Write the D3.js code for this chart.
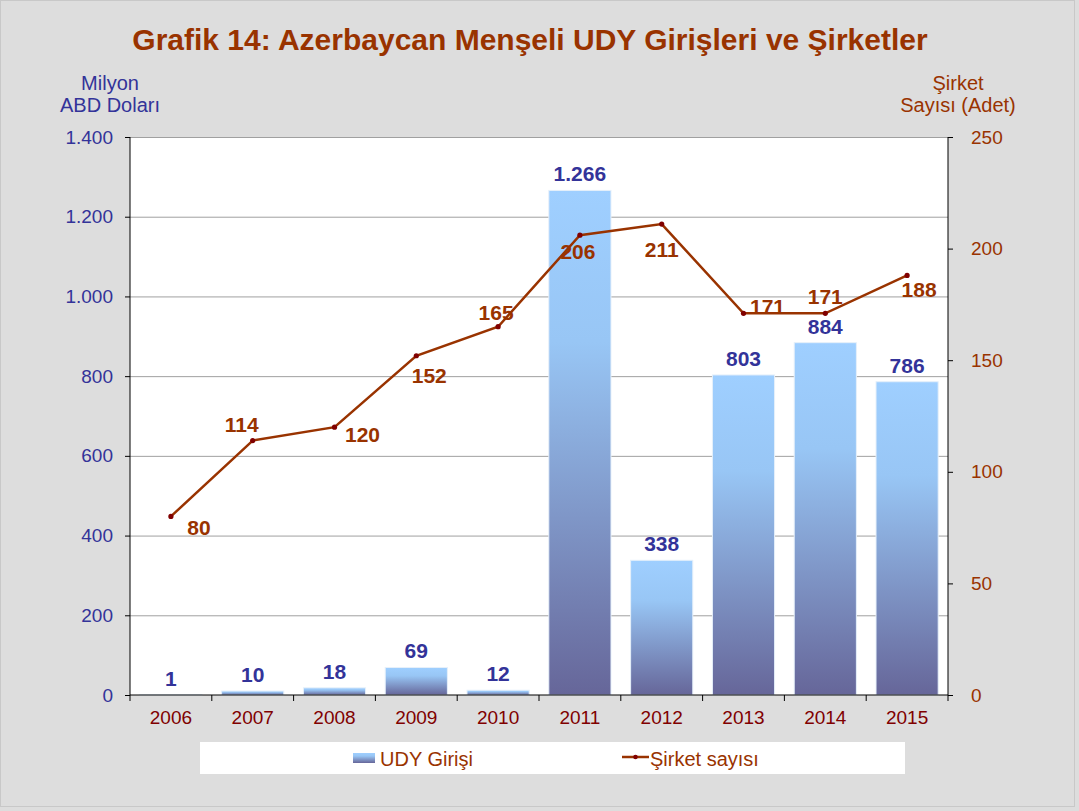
<!DOCTYPE html>
<html>
<head>
<meta charset="utf-8">
<script src="https://cdn.jsdelivr.net/npm/d3@7"></script>
<style>
  body { margin: 0; background: #dddddd; }
  svg { display: block; font-family: "Liberation Sans", Arial, sans-serif; }
</style>
</head>
<body>
<div id="chart"></div>
<script>
var years = ["2006", "2007", "2008", "2009", "2010", "2011", "2012", "2013", "2014", "2015"];
var udy = [1, 10, 18, 69, 12, 1266, 338, 803, 884, 786];
var sirket = [80, 114, 120, 152, 165, 206, 211, 171, 171, 188];
var leftTicks = [0, 200, 400, 600, 800, 1000, 1200, 1400];
var rightTicks = [0, 50, 100, 150, 200, 250];

// label offsets for the line labels
var lineLabelOffset = [[28, 12], [-11, -16], [28, 8], [13, 20], [-2, -14], [-2, 17], [0, 26], [24, -6], [0, -16], [12, 15]];

var W = 1079, H = 811;
var margin = {top: 137, right: 131, bottom: 116, left: 130};
var width = W - margin.left - margin.right;
var height = H - margin.top - margin.bottom;

var fmt = function(v) { return d3.format(",")(v).replace(/,/g, "."); };

var svg = d3.select("#chart").append("svg")
    .attr("width", W)
    .attr("height", H);

svg.append("rect")
    .attr("x", 0.5).attr("y", 0.5)
    .attr("width", W - 5).attr("height", H - 5)
    .attr("fill", "#dddddd")
    .attr("stroke", "#c8c8c8");

var defs = svg.append("defs");
var grad = defs.append("linearGradient")
    .attr("id", "barGrad")
    .attr("x1", 0).attr("y1", 0).attr("x2", 0).attr("y2", 1);
grad.append("stop").attr("offset", "0%").attr("stop-color", "#9fcfff");
grad.append("stop").attr("offset", "30%").attr("stop-color", "#98c6f5");
grad.append("stop").attr("offset", "100%").attr("stop-color", "#666699");

svg.append("text")
    .attr("x", 530).attr("y", 50)
    .attr("text-anchor", "middle")
    .attr("font-size", "30px")
    .attr("font-weight", "bold")
    .attr("fill", "#993300")
    .text("Grafik 14: Azerbaycan Menşeli UDY Girişleri ve Şirketler");

// axis titles
svg.append("text").attr("x", 110).attr("y", 90).attr("text-anchor", "middle")
    .attr("font-size", "20px").attr("fill", "#333399").text("Milyon");
svg.append("text").attr("x", 110).attr("y", 112).attr("text-anchor", "middle")
    .attr("font-size", "20px").attr("fill", "#333399").text("ABD Doları");
svg.append("text").attr("x", 958).attr("y", 90).attr("text-anchor", "middle")
    .attr("font-size", "20px").attr("fill", "#993300").text("Şirket");
svg.append("text").attr("x", 958).attr("y", 112).attr("text-anchor", "middle")
    .attr("font-size", "20px").attr("fill", "#993300").text("Sayısı (Adet)");

var g = svg.append("g")
    .attr("transform", "translate(" + margin.left + "," + margin.top + ")");

g.append("rect")
    .attr("width", width).attr("height", height)
    .attr("fill", "#ffffff");

var x = d3.scaleBand().domain(years).range([0, width]).paddingInner(0.24).paddingOuter(0.12);
var yL = d3.scaleLinear().domain([0, 1400]).range([height, 0]);
var yR = d3.scaleLinear().domain([0, 250]).range([height, 0]);

// gridlines
g.append("g")
    .attr("class", "grid")
    .call(d3.axisLeft(yL).tickValues(leftTicks.slice(1)).tickSize(-width).tickFormat(""))
    .call(function(s) { s.select(".domain").remove(); })
    .selectAll("line")
    .attr("stroke", "#a0a0a0")
    .attr("stroke-width", 1);

// bars
g.selectAll(".bar")
    .data(years)
    .enter().append("rect")
    .attr("class", "bar")
    .attr("x", function(d) { return x(d); })
    .attr("width", x.bandwidth())
    .attr("y", function(d, i) { return yL(udy[i]); })
    .attr("height", function(d, i) { return height - yL(udy[i]); })
    .attr("fill", "url(#barGrad)")
    .attr("stroke", "#e6f0fa")
    .attr("stroke-width", 1);

g.selectAll(".barLabel")
    .data(years)
    .enter().append("text")
    .attr("class", "barLabel")
    .attr("x", function(d) { return x(d) + x.bandwidth() / 2; })
    .attr("y", function(d, i) { return yL(udy[i]) - 9; })
    .attr("text-anchor", "middle")
    .attr("font-size", "21px")
    .attr("font-weight", "bold")
    .attr("fill", "#333399")
    .text(function(d, i) { return fmt(udy[i]); });

// axes
var leftAxis = g.append("g")
    .call(d3.axisLeft(yL).tickValues(leftTicks).tickSize(5).tickPadding(12).tickFormat(fmt));
leftAxis.select(".domain").attr("stroke", "#000").attr("d", "M0,0V" + height);
leftAxis.selectAll("line").attr("stroke", "#000");
leftAxis.selectAll("text").attr("font-size", "19px").attr("fill", "#333399")
    .attr("font-family", "'Liberation Sans', Arial, sans-serif");

var rightAxis = g.append("g")
    .attr("transform", "translate(" + width + ",0)")
    .call(d3.axisRight(yR).tickValues(rightTicks).tickSize(5).tickPadding(18));
rightAxis.select(".domain").attr("stroke", "#000").attr("d", "M0,0V" + height);
rightAxis.selectAll("line").attr("stroke", "#000");
rightAxis.selectAll("text").attr("font-size", "19px").attr("fill", "#993300")
    .attr("font-family", "'Liberation Sans', Arial, sans-serif");

var xAxis = g.append("g")
    .attr("transform", "translate(0," + height + ")")
    .call(d3.axisBottom(x).tickSize(0).tickPadding(16));
xAxis.select(".domain").attr("stroke", "#000").attr("d", "M0,0H" + width);
xAxis.selectAll("text").attr("font-size", "19px").attr("fill", "#800000")
    .attr("font-family", "'Liberation Sans', Arial, sans-serif");
var step = width / years.length;
xAxis.selectAll(".sep")
    .data(d3.range(years.length + 1))
    .enter().append("line")
    .attr("class", "sep")
    .attr("x1", function(i) { return i * step; })
    .attr("x2", function(i) { return i * step; })
    .attr("y1", 0).attr("y2", 6)
    .attr("stroke", "#000");

// line
var cx = function(i) { return x(years[i]) + x.bandwidth() / 2; };
var line = d3.line()
    .x(function(d, i) { return cx(i); })
    .y(function(d) { return yR(d); });

g.append("path")
    .datum(sirket)
    .attr("d", line)
    .attr("fill", "none")
    .attr("stroke", "#993300")
    .attr("stroke-width", 2.5);

g.selectAll(".pt")
    .data(sirket)
    .enter().append("circle")
    .attr("class", "pt")
    .attr("cx", function(d, i) { return cx(i); })
    .attr("cy", function(d) { return yR(d); })
    .attr("r", 2.6)
    .attr("fill", "#800000");

g.selectAll(".lineLabel")
    .data(sirket)
    .enter().append("text")
    .attr("class", "lineLabel")
    .attr("x", function(d, i) { return cx(i) + lineLabelOffset[i][0]; })
    .attr("y", function(d, i) { return yR(d) + lineLabelOffset[i][1] + 7; })
    .attr("text-anchor", "middle")
    .attr("font-size", "21px")
    .attr("font-weight", "bold")
    .attr("fill", "#993300")
    .text(function(d) { return d; });

// legend
var lg = svg.append("g");
lg.append("rect")
    .attr("x", 200).attr("y", 742)
    .attr("width", 705).attr("height", 32)
    .attr("fill", "#ffffff");
lg.append("rect")
    .attr("x", 353).attr("y", 753)
    .attr("width", 22).attr("height", 10)
    .attr("fill", "url(#barGrad)");
lg.append("text")
    .attr("x", 380).attr("y", 766)
    .attr("font-size", "20px")
    .attr("fill", "#993300")
    .text("UDY Girişi");
lg.append("line")
    .attr("x1", 622).attr("x2", 649).attr("y1", 757).attr("y2", 757)
    .attr("stroke", "#993300").attr("stroke-width", 2.5);
lg.append("circle")
    .attr("cx", 635.5).attr("cy", 757).attr("r", 2.3)
    .attr("fill", "#800000");
lg.append("text")
    .attr("x", 650).attr("y", 766)
    .attr("font-size", "20px")
    .attr("fill", "#993300")
    .text("Şirket sayısı");
</script>
</body>
</html>
